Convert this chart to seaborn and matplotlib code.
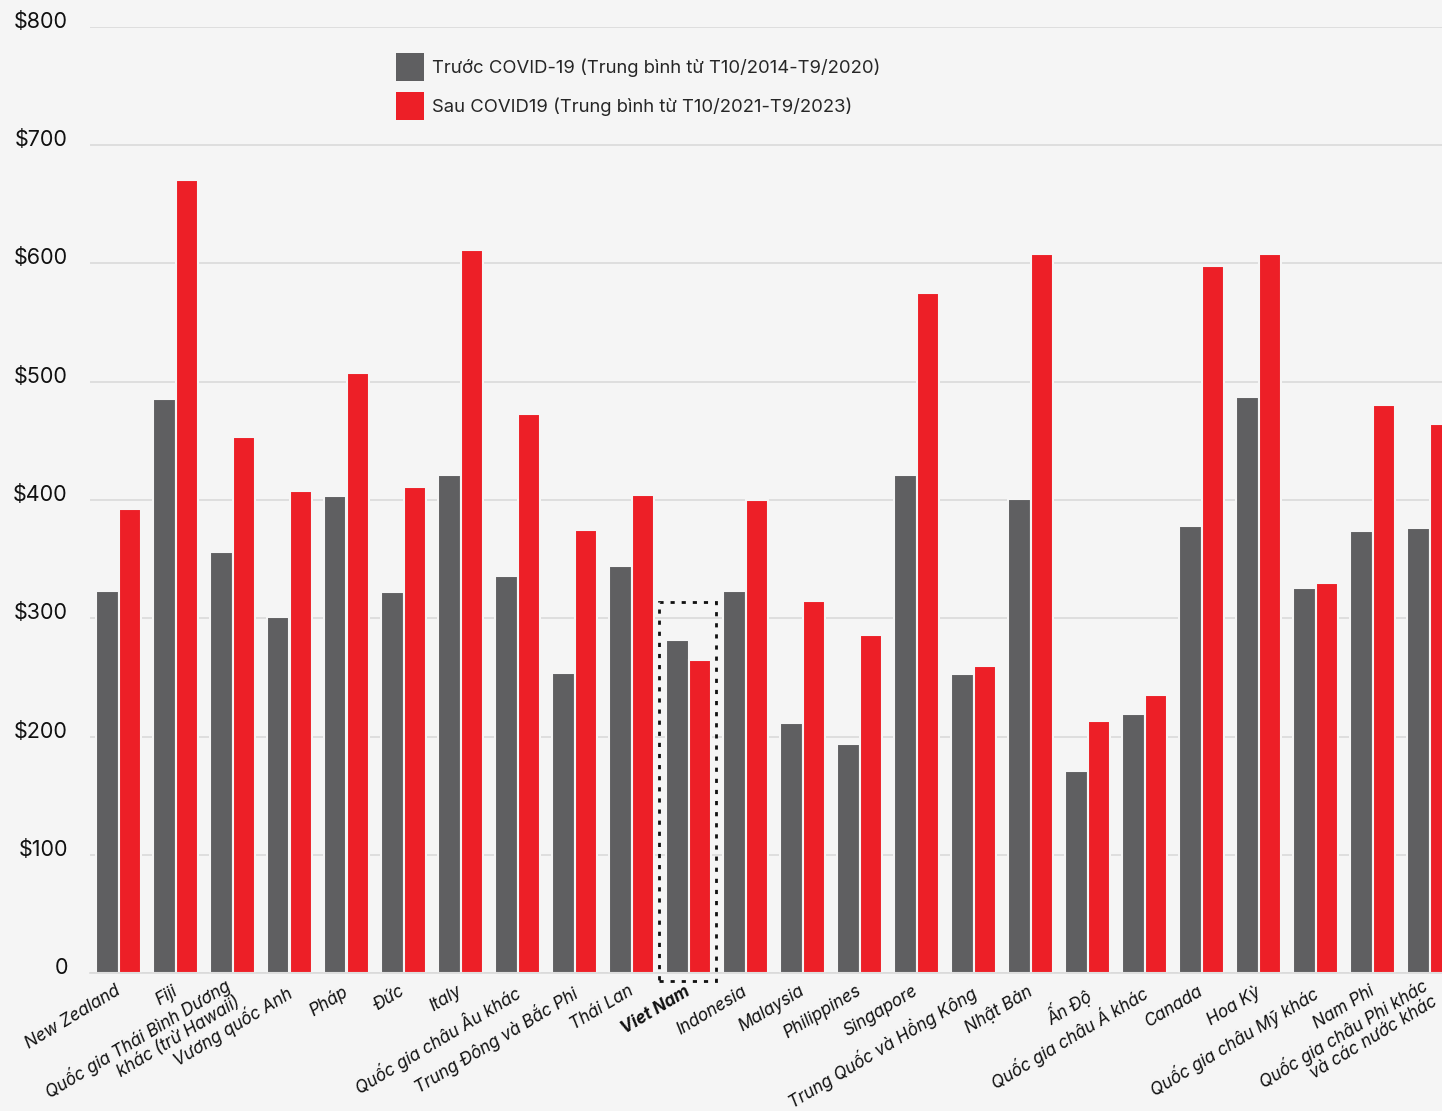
import numpy as np
import pandas as pd
import matplotlib
matplotlib.use('Agg')
import matplotlib.pyplot as plt
import matplotlib.transforms as mtransforms
from matplotlib.patches import Rectangle, Patch
import seaborn as sns

countries = ['New Zealand', 'Fiji', 'Quốc gia Thái Bình Dương\nkhác (trừ Hawaii)', 'Vương quốc Anh',
             'Pháp', 'Đức', 'Italy', 'Quốc gia châu Âu khác', 'Trung Đông và Bắc Phi', 'Thái Lan',
             'Viet Nam', 'Indonesia', 'Malaysia', 'Philippines', 'Singapore', 'Trung Quốc và Hồng Kông',
             'Nhật Bản', 'Ấn Độ', 'Quốc gia châu Á khác', 'Canada', 'Hoa Kỳ', 'Quốc gia châu Mỹ khác',
             'Nam Phi', 'Quốc gia châu Phi khác\nvà các nước khác']
before = [323, 485, 356, 301, 403, 322, 421, 336, 254, 344, 282, 323,
          211, 194, 421, 253, 401, 171, 219, 378, 487, 326, 374, 376]
after = [392, 671, 453, 408, 507, 411, 611, 473, 375, 404, 265, 400,
         315, 286, 575, 260, 608, 213, 235, 598, 608, 330, 480, 464]
series = ['Trước COVID-19 (Trung bình từ T10/2014-T9/2020)',
          'Sau COVID19 (Trung bình từ T10/2021-T9/2023)']
yticks = [0, 100, 200, 300, 400, 500, 600, 700, 800]
ytick_labels = ['0', '$100', '$200', '$300', '$400', '$500', '$600', '$700', '$800']
highlight = 'Viet Nam'
colors = ['#5f5f61', '#ed1f27']

df = pd.DataFrame({
    'country': countries * 2,
    'value': before + after,
    'period': [series[0]] * len(countries) + [series[1]] * len(countries),
})

bg = '#f5f5f5'
sns.set_style('white')
plt.rcParams['font.family'] = ['Inter', 'DejaVu Sans']

fig = plt.figure(figsize=(14.42, 11.11), dpi=100, facecolor=bg)
ax = fig.add_axes([90 / 1442, 138 / 1111, 1368 / 1442, 946 / 1111])
ax.set_facecolor(bg)

sns.barplot(data=df, x='country', y='value', hue='period', palette=colors,
            width=0.78, saturation=1, edgecolor=bg, linewidth=1.5, ax=ax, legend=False)

ax.set_xlim(-0.5, len(countries) - 0.5)
ax.set_ylim(0, 800)
ax.set_xlabel('')
ax.set_ylabel('')

# grid + y labels sitting a bit above the lines
ax.set_yticks(yticks)
ax.set_yticklabels(ytick_labels)
ax.yaxis.grid(True, color='#dadada', lw=1.2)
ax.set_axisbelow(True)
ax.tick_params(axis='y', length=0, pad=16, labelsize=15.5, labelcolor='#111111')
shift = mtransforms.ScaledTranslation(0, 7 / 100, fig.dpi_scale_trans)
for lbl in ax.get_yticklabels():
    lbl.set_transform(lbl.get_transform() + shift)

for s in ['top', 'right', 'left']:
    ax.spines[s].set_visible(False)
ax.spines['bottom'].set_color('#dadada')
ax.spines['bottom'].set_linewidth(1.2)

# x labels
ax.set_xticks(range(len(countries)))
ax.set_xticklabels(countries, rotation=31, ha='right', rotation_mode='anchor',
                   fontstyle='italic', fontsize=12.3, multialignment='right', linespacing=1.05)
ax.tick_params(axis='x', length=0, pad=7, labelcolor='#111111')
xshift = mtransforms.ScaledTranslation(-4 / 100, 0, fig.dpi_scale_trans)
xshift2 = mtransforms.ScaledTranslation(-9 / 100, 8 / 100, fig.dpi_scale_trans)
for lbl in ax.get_xticklabels():
    two_lines = '\n' in lbl.get_text()
    lbl.set_transform(lbl.get_transform() + (xshift2 if two_lines else xshift))
    if lbl.get_text() == highlight:
        lbl.set_fontweight('bold')

# separators between groups
ax.set_xticks(np.arange(-0.5, len(countries)), minor=True)
ax.tick_params(axis='x', which='minor', direction='in', length=16.5, color='#d5d5d5', width=1)

# legend
handles = [Patch(facecolor=c, edgecolor='none') for c in colors]
ax.legend(handles, series, loc='upper left', bbox_to_anchor=(396 / 1442, 1 - 53 / 1111),
          bbox_transform=fig.transFigure, frameon=False, fontsize=13.3,
          handlelength=1.52, handleheight=1.96, handletextpad=0.45, labelspacing=0.6,
          borderpad=0, borderaxespad=0)

# dotted box around Viet Nam
i = countries.index(highlight)
top = max(before[i], after[i]) + 32
ax.add_patch(Rectangle((i - 0.52, -7), 1, top + 7, fill=False, ls=(0, (1.5, 2.5)), lw=2,
                       ec='#111111', clip_on=False, zorder=5))

fig.savefig('out.png', dpi=100, facecolor=bg)
